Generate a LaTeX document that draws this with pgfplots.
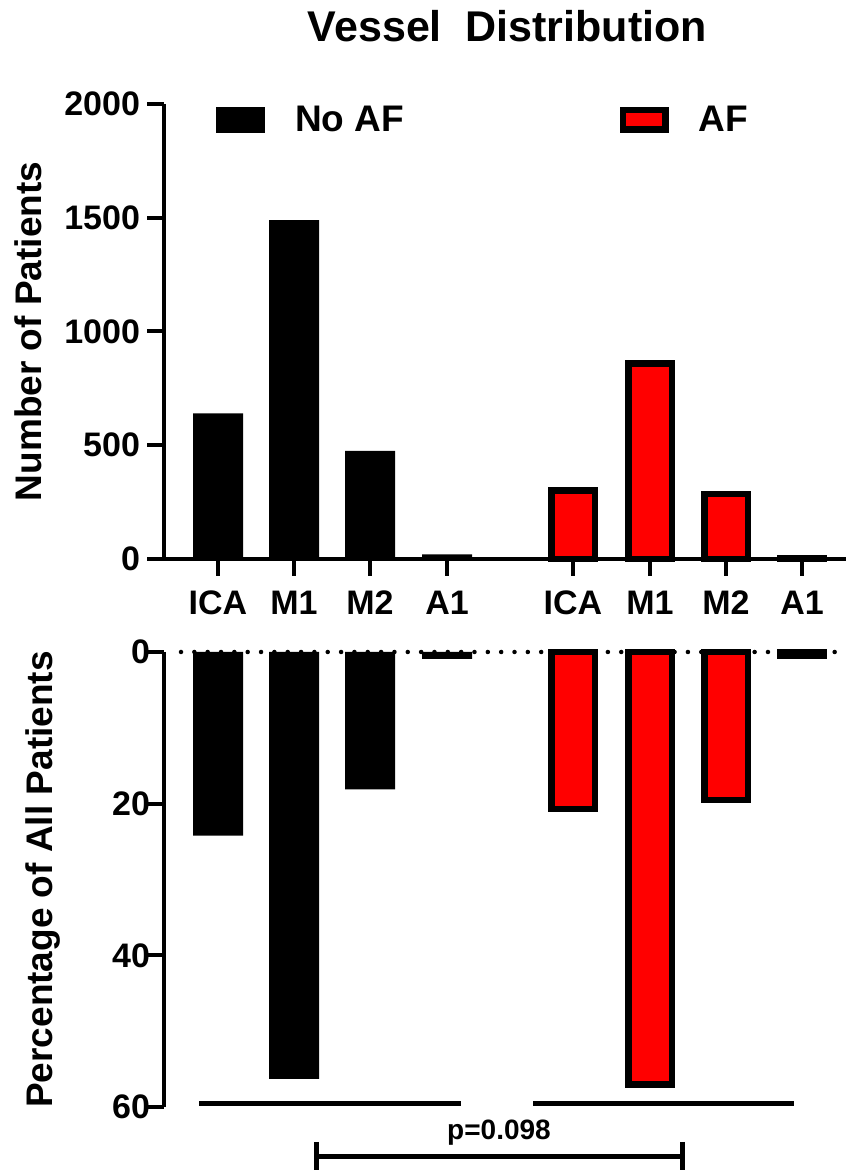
\documentclass[border=0pt]{standalone}
\usepackage{fontspec}
\setmainfont{Liberation Sans}
\usepackage{pgfplots}
\pgfplotsset{compat=1.18}
\definecolor{afred}{RGB}{255,0,0}
\newcommand{\tickfont}{\fontsize{17}{19}\selectfont\bfseries}
\newcommand{\labfont}{\fontsize{18.5}{21}\selectfont\bfseries}
\pgfplotsset{
  common/.style={
    scale only axis, width=341pt, height=227.5pt,
    xmin=164, xmax=846, clip=false,
    axis line style={line width=2pt,-},
    tick style={line width=2pt,black},
    tick align=outside, major tick length=8.5pt,
    /pgf/number format/.cd, 1000 sep={}, assume math mode=true, /pgfplots/.cd,
    ticklabel style={font=\tickfont},
    ylabel style={font=\labfont, anchor=base},
  }
}
\begin{document}
\begin{tikzpicture}
\useasboundingbox (0pt,0pt) rectangle (423pt,585pt);
% ---------- top axis: number of patients ----------
\begin{axis}[common,
  at={(82pt,305.5pt)}, anchor=south west,
  axis x line*=bottom, axis y line*=left,
  ymin=0, ymax=2000, ytick={0,500,1000,1500,2000},
  xtick={218,294,370,447,573,650,726,802},
  xticklabels={ICA,M1,M2,A1,ICA,M1,M2,A1},
  xticklabel style={yshift=-4pt},
  ylabel={Number of Patients},
  ylabel style={at={(axis description cs:-0.1789,0.5)}},
  title={Vessel\ \ Distribution},
  title style={font=\fontsize{21.5}{24}\selectfont\bfseries, at={(axis description cs:0.5,1)}, anchor=base, yshift=25pt, xshift=1.25pt},
  legend columns=2,
  legend style={draw=none, fill=none, at={(axis cs:216,1930)}, anchor=west,
    inner sep=0pt, outer sep=0pt, font=\labfont,
    nodes={inner sep=0pt},
    /tikz/every odd column/.append style={column sep=15pt},
    /tikz/every even column/.append style={column sep=108pt}},
  legend cell align=left,
]
\addplot[ybar, bar width=25pt, bar shift=0pt, fill=black, draw=none,
  legend image code/.code={\fill[black] (0pt,-6.5pt) rectangle (24.5pt,6.5pt);}]
  coordinates {(218,640) (294,1490) (370,475) (447,20)};
\addlegendentry{No AF}
\addplot[ybar, bar width=21.75pt, bar shift=0pt, fill=afred, draw=black, line width=3.25pt,
  legend image code/.code={\draw[fill=afred, draw=black, line width=3.25pt] (1.625pt,-4.875pt) rectangle (22.875pt,4.875pt);}]
  coordinates {(573,300) (650,860) (726,285) (802,2)};
\addlegendentry{AF}
\end{axis}
% ---------- bottom axis: percentage ----------
\begin{axis}[common,
  at={(82pt,31.5pt)}, anchor=south west,
  y dir=reverse,
  axis x line=none, axis y line*=left,
  ymin=0, ymax=60, ytick={0,20,40,60},
  yticklabel style={xshift=5pt},
  ylabel={Percentage of All Patients},
  ylabel style={at={(axis description cs:-0.1642,0.5)}},
]
\addplot[ybar, bar width=25pt, bar shift=0pt, fill=black, draw=none]
  coordinates {(218,24.2) (294,56.3) (370,18.1) (447,0.9)};
\addplot[ybar, bar width=21.75pt, bar shift=0pt, fill=afred, draw=black, line width=3.25pt]
  coordinates {(573,20.7) (650,57.0) (726,19.5) (802,0.5)};
\draw[line width=2.25pt, line cap=round, dash pattern=on 0pt off 6.67pt]
  (axis cs:181,0) -- (axis cs:846,0);
\draw[line width=2.5pt] (axis cs:199,59.55) -- (axis cs:461,59.55);
\draw[line width=2.5pt] (axis cs:533,59.55) -- (axis cs:794,59.55);
\draw[line width=2.5pt] (axis cs:316,66.5) -- (axis cs:682,66.5);
\draw[line width=2.5pt] (axis cs:316,64.6) -- (axis cs:316,70);
\draw[line width=2.5pt] (axis cs:682,64.6) -- (axis cs:682,70);
\node[font=\fontsize{14}{16}\selectfont\bfseries, anchor=base] at (axis cs:499,64.35) {p=0.098};
\end{axis}
\end{tikzpicture}
\end{document}
